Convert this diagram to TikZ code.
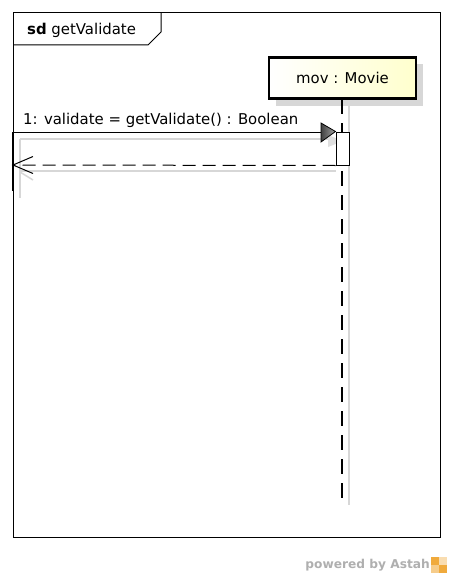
\documentclass[tikz,border=0pt]{standalone}
\usepackage{fontspec}
\setmainfont{DejaVu Sans}
\usetikzlibrary{arrows.meta}
\definecolor{shadowgray}{RGB}{215,215,215}
\definecolor{lifeyellow}{RGB}{255,255,205}
\definecolor{astahgray}{RGB}{175,175,175}
\definecolor{astahorange}{RGB}{240,170,60}
\tikzset{
  lbl/.style={font=\fontsize{14.9}{17}\selectfont, inner sep=0},
  shadowline/.style={shadowgray, line width=1.5pt},
  lifehead/.style={draw, line width=2.6pt, minimum width=147pt, minimum height=41pt, inner sep=0,
    left color=white, right color=lifeyellow, font=\fontsize{14.9}{17}\selectfont},
  actbox/.style={draw, fill=white, line width=1pt, minimum width=13pt, minimum height=33pt, inner sep=0},
  lifeline/.style={line width=1.4pt, dash pattern=on 15pt off 9pt},
  retline/.style={line width=1pt, dash pattern=on 13pt off 7pt},
}
\begin{document}
\begin{tikzpicture}[x=1pt,y=-1pt]
\useasboundingbox (0,0) rectangle (453,578);
\fill[white] (0,0) rectangle (453,578);
% frame
\draw[line width=1pt] (13,13) rectangle (440,537);
\draw[line width=1pt] (13,45) -- (148,45) -- (161,32) -- (161,13);
\node[lbl, anchor=west] (title) at (27,30) {\textbf{sd} getValidate};
% lifeline head
\fill[shadowgray] (276,64) rectangle (423,106);
\draw[shadowline] (349,106) -- (349,505);
\node[lifehead] (mov) at (342.5,78) {mov : Movie};
\coordinate (lifeend) at (342,499);
\draw[lifeline] (342,99) -- (lifeend);
% message shadows
\draw[shadowline] (20,139) -- (336,139);
\draw[shadowline] (20,139) -- (20,198);
\draw[shadowline] (20,171) -- (336,171);
\draw[shadowline] (20,172) -- (33,180);
\fill[shadowgray!80] (328,135) -- (343,141) -- (328,147) -- cycle;
% activation
\node[actbox] (act) at (342.5,148.5) {};
% caller
\coordinate (callA) at (13,132);
\coordinate (callB) at (13,165);
\draw[line width=2.6pt] (13,132) -- (13,191);
% call message
\draw[line width=1pt] (callA) -- (321,132);
\shade[left color=black!75, right color=black!35, draw=black, line width=0.8pt]
  (321,123) -- (act.north west) -- (321,142) -- cycle;
\node[lbl, anchor=south west] (msg) at (23,128) {1: validate = getValidate() : Boolean};
% return message
\draw[retline] (act.south west) -- (callB);
\draw[line width=1pt] (33,156.5) -- (callB) -- (33,173.5);
% footer
\node[text=astahgray, font=\bfseries\fontsize{12.2}{14}\selectfont, anchor=east, inner sep=0] (powered) at (430,565) {powered by Astah};
\fill[astahorange] (431,557) rectangle (447,573);
\fill[white!60!astahorange] (439,557) rectangle (447,565);
\fill[white!40!astahorange] (431,565) rectangle (439,573);
\end{tikzpicture}
\end{document}
